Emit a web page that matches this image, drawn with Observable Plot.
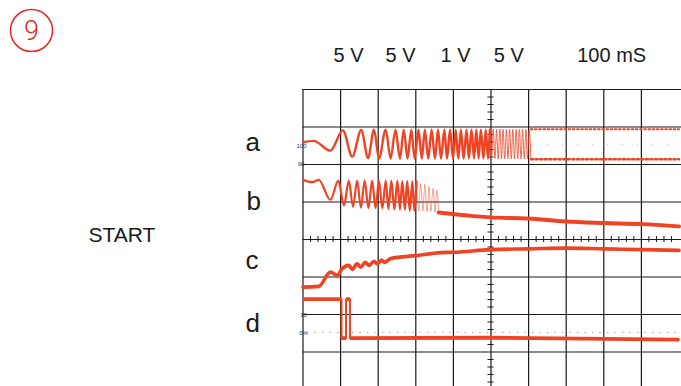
<!DOCTYPE html>
<html><head><meta charset="utf-8">
<script src="https://cdn.jsdelivr.net/npm/d3@7"></script>
<script src="https://cdn.jsdelivr.net/npm/@observablehq/plot@0.6"></script>
<style>
html,body{margin:0;padding:0;background:#fff;}
#chart{width:681px;height:386px;overflow:hidden;}
</style></head><body><div id="chart"></div>
<script>
// Oscilloscope screen: time in ms (100 ms / div), values in screen divisions (0 = bottom, 8 = top)
const headerLabels = ["5 V", "5 V", "1 V", "5 V", "100 mS"];
const channelLabels = ["a", "b", "c", "d"];
const sideLabel = "START";
const figureNumber = "9";
const scaleMarks = ["100", "90", "10", "0%"];

// trace a (slow part: extremes of the chirp)
const aSlowT = [0, 28, 73, 106, 131, 155, 173, 189, 202, 220, 233, 246, 258, 268, 278, 288, 297, 307, 316, 324, 333, 342, 351, 359, 367, 376, 383, 391, 399, 406, 413, 420, 427, 435, 441, 448, 455, 461, 467, 473, 480, 486, 492, 497];
const aSlowV = [6.59, 6.63, 6.37, 6.91, 6.21, 6.92, 6.17, 6.93, 6.16, 6.93, 6.16, 6.93, 6.16, 6.93, 6.16, 6.93, 6.16, 6.93, 6.16, 6.93, 6.16, 6.93, 6.16, 6.93, 6.16, 6.93, 6.16, 6.93, 6.16, 6.93, 6.16, 6.93, 6.16, 6.93, 6.16, 6.93, 6.16, 6.93, 6.16, 6.93, 6.16, 6.93, 6.16, 6.93];
// trace a (fast part)
const aFastT = [497, 501.5, 506, 510.5, 515, 519, 523.5, 528, 532, 536.5, 541, 545, 549.5, 554, 558, 562.5, 567, 571, 575.5, 580, 584, 588.5, 593, 597, 601.5, 606];
const aFastV = [6.93, 6.16, 6.94, 6.16, 6.94, 6.15, 6.94, 6.15, 6.94, 6.15, 6.94, 6.15, 6.94, 6.15, 6.94, 6.15, 6.94, 6.15, 6.94, 6.15, 6.94, 6.15, 6.94, 6.15, 6.94, 6.15];
// trace a envelope after aliasing (dotted)
const aEnvT = [606, 1000];
const aEnvTop = [6.94, 6.94];
const aEnvBottom = [6.14, 6.14];

// trace b
const bMainT = [0, 24.5, 42, 73, 94, 109, 122, 133, 144, 154, 164, 174, 184, 193, 202, 211, 220, 227, 235, 243, 251, 258, 264, 271, 277, 284, 291, 296, 302];
const bMainV = [5.59, 5.53, 5.59, 5.06, 5.57, 4.91, 5.57, 4.87, 5.57, 4.85, 5.57, 4.84, 5.57, 4.83, 5.57, 4.83, 5.57, 4.81, 5.57, 4.80, 5.57, 4.80, 5.56, 4.79, 5.56, 4.77, 5.55, 4.77, 5.55];
const bFadeT = [302, 308, 313, 319, 324, 330, 335, 340, 346, 351, 356, 361];
const bFadeV = [5.55, 4.76, 5.49, 4.76, 5.47, 4.75, 5.41, 4.75, 5.36, 4.73, 5.31, 4.72];
const bTailT = [361, 398, 446, 499, 598, 699, 800, 901, 1000];
const bTailV = [4.72, 4.68, 4.63, 4.59, 4.56, 4.48, 4.44, 4.41, 4.35];

// trace c
const cT = [0, 42, 73, 91, 104, 122, 131, 144, 153, 166, 175, 189, 198, 209, 217, 233, 300, 366, 402, 499, 600, 701, 800, 901, 1000];
const cV = [2.73, 2.75, 3.13, 3.04, 3.22, 3.31, 3.20, 3.35, 3.26, 3.39, 3.31, 3.42, 3.35, 3.45, 3.39, 3.49, 3.57, 3.65, 3.66, 3.73, 3.75, 3.77, 3.75, 3.73, 3.71];

// trace d
const dT = [0, 102.5, 102.5, 114.5, 114.5, 125, 125, 500, 1000];
const dV = [2.41, 2.41, 1.37, 1.37, 2.41, 2.41, 1.37, 1.38, 1.33];

// reference dotted lines of the graticule overlay
const zeroLevel = 1.52;
const aMidLevel = 6.53;

const toPts = (T, V) => T.map((t, i) => ({t, v: V[i]}));
const aSlow = toPts(aSlowT, aSlowV), aFast = toPts(aFastT, aFastV);
const aTop = toPts(aEnvT, aEnvTop), aBot = toPts(aEnvT, aEnvBottom);
const bMain = toPts(bMainT, bMainV), bFade = toPts(bFadeT, bFadeV), bTail = toPts(bTailT, bTailV);
const cPts = toPts(cT, cV);
const dPts = toPts(dT, dV);
const dFlat = dPts.slice(0, -1).map((p, i) => ({p, q: dPts[i + 1]})).filter(s => s.q.t > s.p.t && Math.abs(s.p.v - s.q.v) < 0.1);

// graticule
const gridX = d3.range(0, 1000, 100);
const gridY = d3.range(1, 9, 1);
const minorY = d3.range(0.2, 8, 0.2).filter(v => Math.abs(v - Math.round(v)) > 0.01);
const minorX = d3.range(20, 1001, 20).filter(t => t % 100 !== 0);

const RED = "#ef4424";
const INK = "#1a1a1a";
const FONT = "'Liberation Sans', Arial, Helvetica, sans-serif";
const L = 302.5, T = 89; // frame origin in px (for text placement)

const headerX = [333, 385, 440, 493.3, 576.7];
const channelX = [245, 246, 245, 245];
const channelBase = [150, 209, 268, 331];
const scaleX = [301, 300.5, 303, 303];
const scaleBase = [147.5, 165.5, 316, 334];

const txt = (s, x, y, o = {}) => Plot.text([s], {text: d => d, frameAnchor: "top-left", dx: x - L, dy: y - T,
  textAnchor: "start", lineAnchor: "bottom", fontFamily: FONT, fill: INK, ...o});

const marks = [
  Plot.ruleX(gridX, {x: d => d, y1: 0.08, y2: 8, stroke: INK, strokeWidth: 1.2}),
  Plot.ruleY(gridY, {y: d => d, x1: 0, x2: 1010, stroke: INK, strokeWidth: 1.2}),
  Plot.ruleY(minorY, {y: d => d, x1: 492, x2: 508, stroke: INK, strokeWidth: 1}),
  Plot.ruleX(minorX, {x: d => d, y1: 3.92, y2: 4.08, stroke: INK, strokeWidth: 1}),
  Plot.ruleY([zeroLevel], {x1: 12, x2: 1000, stroke: "#9a9a9a", strokeWidth: 1, strokeDasharray: "1.2,6.3"}),
  Plot.ruleY([aMidLevel], {x1: 610, x2: 1000, stroke: "#c0c0c0", strokeWidth: 1, strokeDasharray: "1,14"}),
  // traces
  Plot.line(aSlow, {x: "t", y: "v", stroke: RED, strokeWidth: 2.4, curve: "monotone-x"}),
  Plot.line(aFast, {x: "t", y: "v", stroke: RED, strokeWidth: 1, strokeOpacity: 0.8, curve: "monotone-x"}),
  Plot.line(aTop, {x: "t", y: "v", stroke: RED, strokeWidth: 2, strokeDasharray: "1.6,2.6"}),
  Plot.line(aBot, {x: "t", y: "v", stroke: RED, strokeWidth: 2.4, strokeDasharray: "2.2,2.4"}),
  Plot.line(bMain, {x: "t", y: "v", stroke: RED, strokeWidth: 2.2, curve: "monotone-x"}),
  Plot.line(bFade, {x: "t", y: "v", stroke: RED, strokeWidth: 1, strokeOpacity: 0.5, curve: "monotone-x"}),
  Plot.line(bTail, {x: "t", y: "v", stroke: RED, strokeWidth: 4, curve: "monotone-x"}),
  Plot.line(cPts, {x: "t", y: "v", stroke: RED, strokeWidth: 3.6, curve: "monotone-x"}),
  Plot.line(dPts, {x: "t", y: "v", stroke: RED, strokeWidth: 2}),
  Plot.link(dFlat, {x1: d => d.p.t, y1: d => d.p.v, x2: d => d.q.t, y2: d => d.q.v, stroke: RED, strokeWidth: 3.8}),
  // texts
  Plot.dot([0], {frameAnchor: "top-left", dx: 31 - L, dy: 30 - T, r: 21, stroke: "#e8261f", strokeWidth: 1.5, fill: "none"}),
  txt(figureNumber, 31, 39.5, {textAnchor: "middle", fontSize: 27, fill: "#e8261f", fontFamily: "Roboto, " + FONT, fontWeight: 300}),
  ...headerLabels.map((s, i) => txt(s, headerX[i], 61.5, {fontSize: 20})),
  ...channelLabels.map((s, i) => txt(s, channelX[i], channelBase[i], {fontSize: 26})),
  txt(sideLabel, 88, 241.7, {fontSize: 21, letterSpacing: "1.4px"}),
  ...scaleMarks.map((s, i) => txt(s, scaleX[i], scaleBase[i], {fontSize: 6, textAnchor: "middle", fill: "#333"}))
];

const chart = Plot.plot({
  width: 681, height: 386,
  marginLeft: L, marginRight: 2.5, marginTop: T, marginBottom: 0,
  x: {domain: [0, 1000], axis: null},
  y: {domain: [0.08, 8], axis: null},
  style: {background: "#fff", overflow: "visible"},
  marks
});
document.getElementById("chart").appendChild(chart);
</script>
</body></html>
